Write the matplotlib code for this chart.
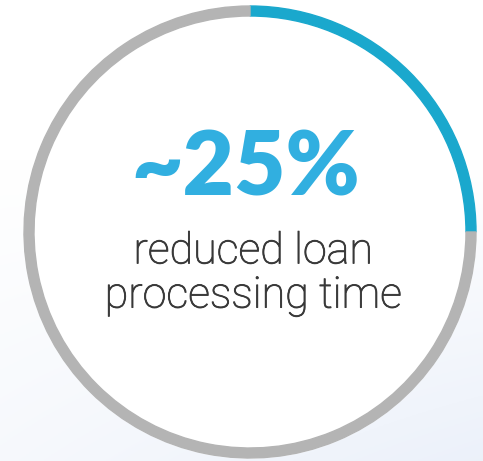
import numpy as np
import matplotlib.pyplot as plt
import matplotlib.patheffects as pe
from matplotlib.patches import Wedge, Circle

# share of the ring shown in blue
share = 25
total = 100
headline = "~25%"
caption = "reduced loan\nprocessing time"

W, H = 483, 461
fig = plt.figure(figsize=(W / 100, H / 100), dpi=100)
ax = fig.add_axes([0, 0, 1, 1])
ax.set_xlim(0, W)
ax.set_ylim(0, H)
ax.axis("off")

# white top fading to pale blue toward the bottom-right corner
gx, gy = np.meshgrid(np.linspace(0, 1, 200), np.linspace(0, 1, 200))
t = np.clip((gy - 0.35) / 0.65, 0, 1) * (0.45 + 0.55 * gx)
c0 = np.array([1.0, 1.0, 1.0])
c1 = np.array([0.925, 0.945, 0.98])
bg = c0 + (c1 - c0) * t[..., None]
ax.imshow(bg, extent=[0, W, 0, H], origin="upper", zorder=0)

cx, cy, r, ring = 250, 229, 226, 10
ax.add_patch(Circle((cx, cy), r, color="white", zorder=1))

start = 90
end = start - 360 * share / total
ax.add_patch(Wedge((cx, cy), r, end, start, width=ring, color="#1aa8cd", zorder=2))
ax.add_patch(Wedge((cx, cy), r, start, end + 360, width=ring, color="#b4b4b4", zorder=2))

ax.text(cx - 4, H - 170, headline, ha="center", va="center", fontsize=64,
        family="Lato", fontweight="heavy", color="#31afe0", zorder=3)
ax.text(cx + 3, H - 274, caption, ha="center", va="center", fontsize=31,
        family="Roboto", fontweight="light", color="#383838", linespacing=1.1, zorder=3,
        path_effects=[pe.withStroke(linewidth=0.6, foreground="#383838")])

fig.savefig("out.png", dpi=100)
